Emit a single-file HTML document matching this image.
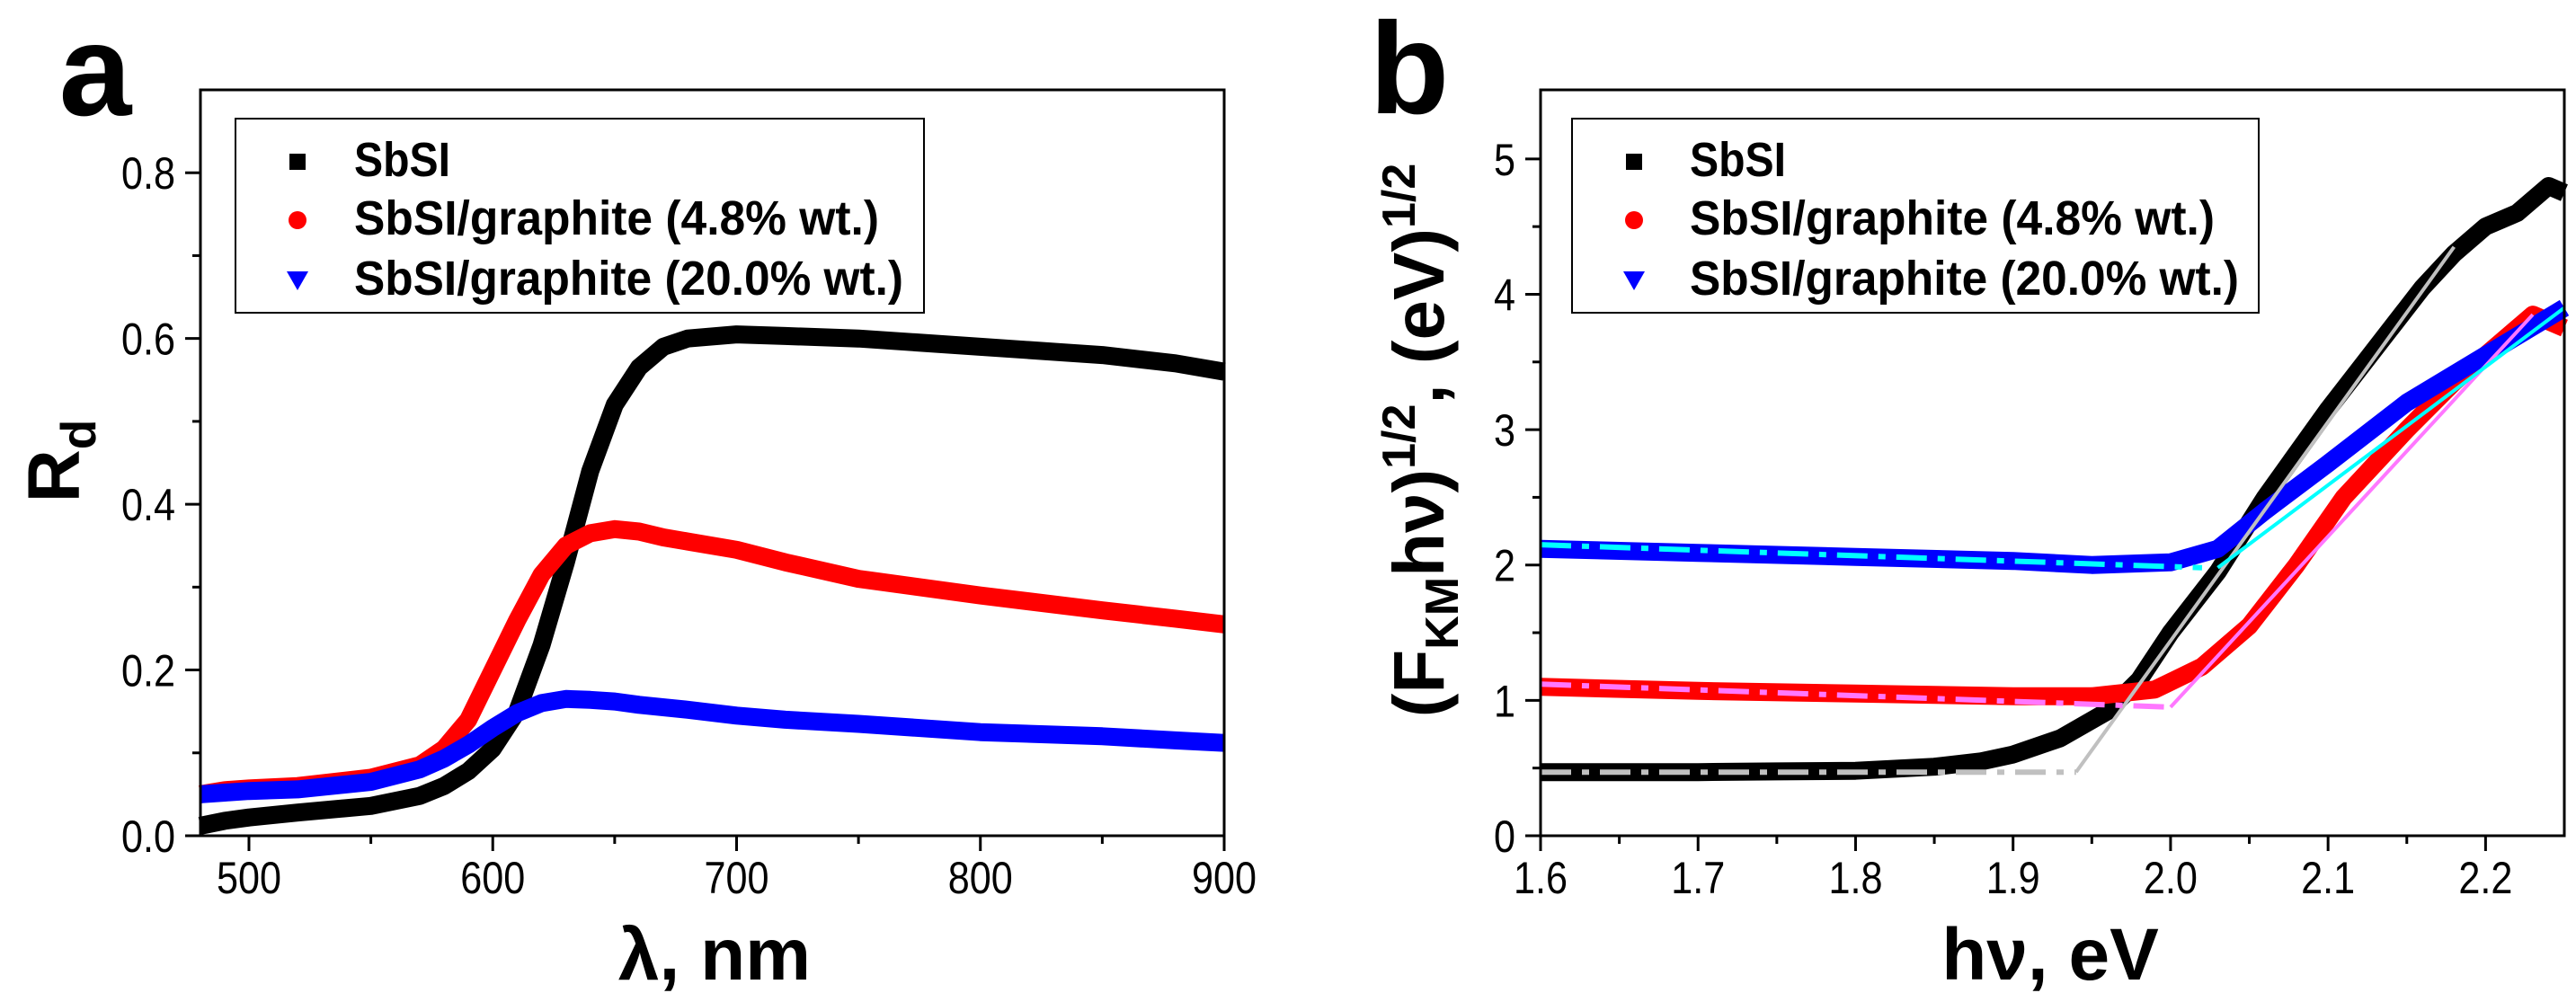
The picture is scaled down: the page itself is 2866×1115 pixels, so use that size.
<!DOCTYPE html>
<html><head><meta charset="utf-8">
<style>
html,body{margin:0;padding:0;background:#fff;}
svg{display:block;font-family:"Liberation Sans",Arial,sans-serif;}
</style></head>
<body>
<svg id="fig" width="2866" height="1115" viewBox="0 0 2866 1115" xmlns="http://www.w3.org/2000/svg">
<rect x="0" y="0" width="2866" height="1115" fill="#fff"/>
<g id="pa"></g>
<g id="pb"></g>
</svg>
<script>
// ---- Panel a data ----
const aWave = [480,490,500,520,550,570,580,590,600,610,620,630,640,650,660,670,680,700,720,750,800,850,880,900];
const aSbSI = [0.012,0.018,0.022,0.028,0.036,0.048,0.06,0.078,0.105,0.15,0.23,0.33,0.44,0.52,0.565,0.59,0.6,0.605,0.603,0.6,0.59,0.58,0.57,0.56];
const aG48  = [0.05,0.055,0.057,0.06,0.07,0.085,0.105,0.14,0.2,0.26,0.315,0.35,0.365,0.37,0.367,0.36,0.355,0.345,0.33,0.31,0.29,0.272,0.262,0.255];
const aG20  = [0.05,0.052,0.054,0.056,0.065,0.08,0.093,0.11,0.13,0.148,0.16,0.165,0.164,0.162,0.158,0.155,0.152,0.145,0.14,0.135,0.125,0.12,0.115,0.112];
const aXTicks = [500,600,700,800,900];
const aYTicks = [0.0,0.2,0.4,0.6,0.8];
const aXTickLabels = ["500","600","700","800","900"];
const aYTickLabels = ["0.0","0.2","0.4","0.6","0.8"];
// ---- Panel b data ----
const bE = [1.6,1.65,1.7,1.75,1.8,1.85,1.88,1.9,1.93,1.96,1.98,2.0,2.03,2.06,2.1,2.13,2.16,2.18,2.2,2.22,2.24,2.25];
const bSbSI = [0.47,0.47,0.47,0.475,0.48,0.51,0.55,0.6,0.72,0.92,1.15,1.5,1.95,2.5,3.15,3.6,4.05,4.3,4.5,4.6,4.8,4.75];
const bG48E = [1.6,1.7,1.8,1.9,1.95,1.99,2.02,2.05,2.08,2.11,2.15,2.18,2.2,2.23,2.25];
const bG48  = [1.1,1.07,1.05,1.03,1.03,1.08,1.25,1.55,2.0,2.5,3.0,3.35,3.55,3.85,3.75];
const bG20E = [1.6,1.7,1.8,1.9,1.95,2.0,2.03,2.06,2.1,2.15,2.2,2.25];
const bG20  = [2.12,2.09,2.06,2.03,2.0,2.02,2.12,2.4,2.75,3.2,3.55,3.9];
const bXTicks = [1.6,1.7,1.8,1.9,2.0,2.1,2.2];
const bYTicks = [0,1,2,3,4,5];
const bXTickLabels = ["1.6","1.7","1.8","1.9","2.0","2.1","2.2"];
const bYTickLabels = ["0","1","2","3","4","5"];
// fit lines [x1,y1,x2,y2]
const fitBlackBase = [1.6,0.47,1.94,0.47];
const fitBlackSlope = [1.94,0.47,2.18,4.35];
const fitRedBase = [1.6,1.12,2.0,0.95];
const fitRedSlope = [2.0,0.95,2.23,3.85];
const fitBlueBase = [1.6,2.15,2.02,1.98];
const fitBlueSlope = [2.03,1.98,2.25,3.9];

const NS="http://www.w3.org/2000/svg";
function mk(parent,tag,attrs){const e=document.createElementNS(NS,tag);for(const k in attrs)e.setAttribute(k,attrs[k]);parent.appendChild(e);return e;}

const A={x0:223,x1:1362,y0:930,y1:100,xmin:480.1,xmax:900,ymin:0,ymax:0.9};
const B={x0:1714,x1:2853,y0:930,y1:100,xmin:1.6,xmax:2.25,ymin:0,ymax:5.51};
function sx(P,v){return P.x0+(v-P.xmin)/(P.xmax-P.xmin)*(P.x1-P.x0);}
function sy(P,v){return P.y0-(v-P.ymin)/(P.ymax-P.ymin)*(P.y0-P.y1);}
function labLen(s){let n=0;for(const c of s)n+=(c==='.')?12:24;return n;}

function series(g,P,xs,ys,color,name,w){
  const pts=xs.map((x,i)=>sx(P,x).toFixed(1)+","+sy(P,ys[i]).toFixed(1)).join(" ");
  const e=mk(g,"polyline",{points:pts,fill:"none",stroke:color,"stroke-width":w,"stroke-linejoin":"round","stroke-linecap":"butt"});
  
  
}
function fit(g,P,f,color,dash,name){
  const e=mk(g,"line",{x1:sx(P,f[0]),y1:sy(P,f[1]),x2:sx(P,f[2]),y2:sy(P,f[3]),stroke:color,"stroke-width":dash?6:4});
  if(dash)e.setAttribute("stroke-dasharray","34,12,8,12");
  
  
}
function axes(g,P,xt,xl,yt,yl,xminor,yminor){
  const fr=mk(g,"rect",{x:P.x0,y:P.y1,width:P.x1-P.x0,height:P.y0-P.y1,fill:"none",stroke:"#000","stroke-width":3});
  
  
  xt.forEach((v,i)=>{
    const x=sx(P,v);
    const t=mk(g,"line",{x1:x,y1:P.y0,x2:x,y2:P.y0+17,stroke:"#000","stroke-width":3});
    
    
    const l=mk(g,"text",{x:x,y:P.y0+64,"font-size":50,"text-anchor":"middle",textLength:labLen(xl[i]),lengthAdjust:"spacingAndGlyphs"});
    l.textContent=xl[i];
    
    
  });
  xminor.forEach(v=>{const x=sx(P,v);
    const t=mk(g,"line",{x1:x,y1:P.y0,x2:x,y2:P.y0+9,stroke:"#000","stroke-width":3});
    
    });
  yt.forEach((v,i)=>{
    const y=sy(P,v);
    const t=mk(g,"line",{x1:P.x0-17,y1:y,x2:P.x0,y2:y,stroke:"#000","stroke-width":3});
    
    
    const l=mk(g,"text",{x:P.x0-28,y:y+18,"font-size":50,"text-anchor":"end",textLength:labLen(yl[i]),lengthAdjust:"spacingAndGlyphs"});
    l.textContent=yl[i];
    
    
  });
  yminor.forEach(v=>{const y=sy(P,v);
    const t=mk(g,"line",{x1:P.x0-9,y1:y,x2:P.x0,y2:y,stroke:"#000","stroke-width":3});
    
    });
}
function legend(g,bx,by,bw,bh,symx,tx){
  const r=mk(g,"rect",{x:bx,y:by,width:bw,height:bh,fill:"#fff",stroke:"#000","stroke-width":2});
  
  
  const rows=[180,245,312];
  const labels=["SbSI","SbSI/graphite (4.8% wt.)","SbSI/graphite (20.0% wt.)"];
  const lens=[107,584,611];
  const s1=mk(g,"rect",{x:symx-9,y:rows[0]-9,width:18,height:18,fill:"#000"});
  
  
  const s2=mk(g,"circle",{cx:symx,cy:rows[1],r:10,fill:"#f00"});
  
  
  const s3=mk(g,"polygon",{points:`${symx-12},${rows[2]-10} ${symx+12},${rows[2]-10} ${symx},${rows[2]+11}`,fill:"#00f"});
  
  
  labels.forEach((t,i)=>{
    const e=mk(g,"text",{x:tx,y:rows[i]+16,"font-size":54,"font-weight":"bold",textLength:lens[i],lengthAdjust:"spacingAndGlyphs"});
    e.textContent=t;
    
    
  });
}

// ---- Panel a ----
const ga=document.getElementById("pa");
series(ga,A,aWave,aSbSI,"#000","series-sbsi",20);
series(ga,A,aWave,aG48,"#f00","series-graphite-4-8",20);
series(ga,A,aWave,aG20,"#00f","series-graphite-20",20);
axes(ga,A,aXTicks,aXTickLabels,aYTicks,aYTickLabels,[550,650,750,850],[0.1,0.3,0.5,0.7]);
legend(ga,262,132,766,216,331,394);
let t=mk(ga,"text",{x:106,y:128,"font-size":145,"font-weight":"bold","text-anchor":"middle"});t.textContent="a";


t=mk(ga,"text",{x:795,y:1090,"font-size":82,"font-weight":"bold","text-anchor":"middle"});t.textContent="λ, nm";


t=mk(ga,"text",{x:0,y:0,"font-size":82,"font-weight":"bold","text-anchor":"middle",transform:"translate(88,513) rotate(-90)"});
t.innerHTML='R<tspan font-size="55" dy="18">d</tspan>';



// ---- Panel b ----
const gb=document.getElementById("pb");
series(gb,B,bE,bSbSI,"#000","series-sbsi",20);
series(gb,B,bG48E,bG48,"#f00","series-graphite-4-8",20);
series(gb,B,bG20E,bG20,"#00f","series-graphite-20",20);
fit(gb,B,fitBlackBase,"#c0c0c0",true,"fit-sbsi-baseline");
fit(gb,B,fitBlackSlope,"#c0c0c0",false,"fit-sbsi-slope");
fit(gb,B,fitRedBase,"#ff77ff",true,"fit-4-8-baseline");
fit(gb,B,fitRedSlope,"#ff77ff",false,"fit-4-8-slope");
fit(gb,B,fitBlueBase,"#00ffff",true,"fit-20-baseline");
fit(gb,B,fitBlueSlope,"#00ffff",false,"fit-20-slope");
axes(gb,B,bXTicks,bXTickLabels,bYTicks,bYTickLabels,[1.65,1.75,1.85,1.95,2.05,2.15],[0.5,1.5,2.5,3.5,4.5]);
legend(gb,1749,132,764,216,1818,1880);
t=mk(gb,"text",{x:1568,y:126,"font-size":145,"font-weight":"bold","text-anchor":"middle"});t.textContent="b";


t=mk(gb,"text",{x:2281,y:1090,"font-size":82,"font-weight":"bold","text-anchor":"middle"});t.textContent="hν, eV";


t=mk(gb,"text",{x:0,y:0,"font-size":80,"font-weight":"bold","text-anchor":"middle",transform:"translate(1606,490) rotate(-90)"});
t.innerHTML='(F<tspan font-size="52" dy="16">KM</tspan><tspan dy="-16">hν)</tspan><tspan font-size="52" dy="-32">1/2</tspan><tspan dy="32">, (eV)</tspan><tspan font-size="52" dy="-32">1/2</tspan>';


</script>
</body></html>
